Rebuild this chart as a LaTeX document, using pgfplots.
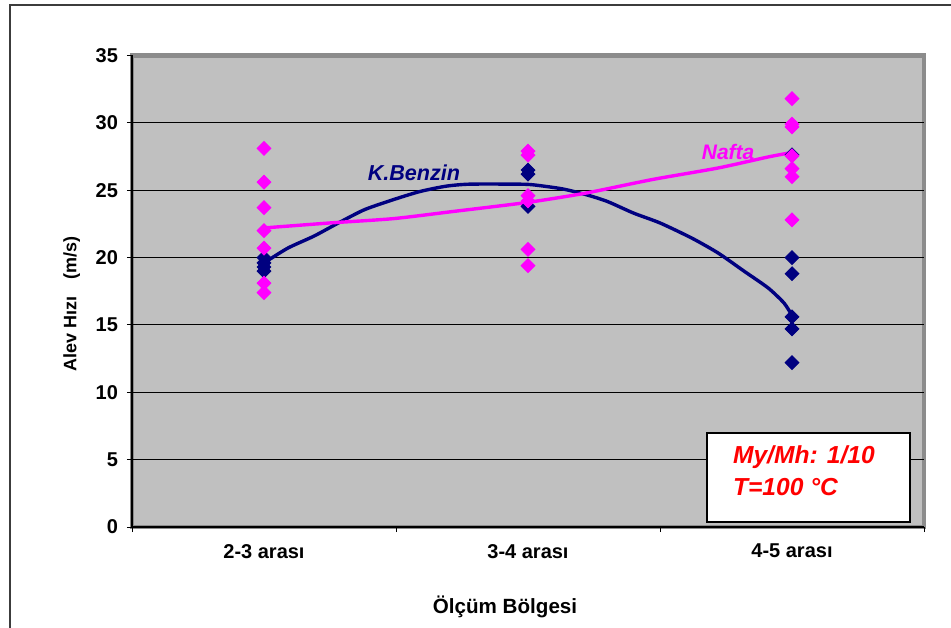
\documentclass[border=0pt]{standalone}
\usepackage{fontspec}
\setmainfont{Liberation Sans}
\usepackage{pgfplots}
\pgfplotsset{compat=1.18}
\definecolor{kb}{HTML}{000080}
\definecolor{nf}{HTML}{FF00FF}
\definecolor{bgc}{HTML}{C0C0C0}
\definecolor{bdc}{HTML}{8C8C8C}
\definecolor{frc}{HTML}{3C3C3C}
\begin{document}
\begin{tikzpicture}
\useasboundingbox (0,0) rectangle (475.5pt,313.5pt);
\draw[frc, line width=1pt] (4.75pt,-5pt) -- (4.75pt,311pt) -- (480pt,311pt);
\begin{axis}[
  at={(66pt,50pt)}, anchor=south west, scale only axis,
  width=396pt, height=235.75pt,
  xmin=0, xmax=3, ymin=0, ymax=35,
  axis x line*=bottom, axis y line*=left,
  axis line style={-, black, line width=0.6pt},
  axis background/.style={fill=bgc, draw=bdc, line width=2.2pt},
  xtick={0,1,2,3}, xticklabels={,,,},
  extra x ticks={0.5,1.5,2.5},
  extra x tick labels={2-3 arası, 3-4 arası, 4-5 arası},
  extra x tick style={major tick length=0pt},
  ytick={5,10,...,30},
  extra y ticks={0,35},
  extra y tick style={grid=none},
  ymajorgrids,
  grid style={black, line width=0.5pt},
  tick align=outside,
  major tick length=2.5pt,
  tick style={black, line width=0.5pt},
  /pgf/number format/assume math mode=true,
  tick label style={font=\fontsize{10}{12}\selectfont\bfseries},
  xticklabel style={yshift=-5pt},
  yticklabel style={xshift=-1pt},
  xlabel={Ölçüm Bölgesi},
  ylabel={Alev Hızı\hspace{0.9em}(m/s)},
  xlabel style={at={(axis description cs:0.471,-0.17)}, anchor=center, font=\fontsize{10.3}{12}\selectfont\bfseries},
  ylabel style={at={(axis description cs:-0.076,0.473)}, anchor=center, rotate=0, font=\fontsize{9}{11}\selectfont\bfseries},
  mark size=2.45pt,
]
% K.Benzin measured points
\addplot[only marks, mark=square*, mark options={rotate=45, fill=kb, draw=kb}] coordinates {
 (0.5,20.0)(0.5,19.6)(0.5,19.3)(0.5,19.0)
 (1.5,26.5)(1.5,26.2)(1.5,23.8)
 (2.5,27.62)(2.5,20.0)(2.5,18.8)(2.5,15.6)(2.5,14.7)(2.5,12.2)
};
% Nafta measured points
\addplot[only marks, mark=square*, mark options={rotate=45, fill=nf, draw=nf}] coordinates {
 (0.5,28.1)(0.5,25.6)(0.5,23.7)(0.5,22.0)(0.5,20.7)(0.5,18.1)(0.5,17.4)
 (1.5,27.9)(1.5,27.6)(1.5,24.6)(1.5,24.2)(1.5,20.6)(1.5,19.4)
 (2.5,31.8)(2.5,29.9)(2.5,29.7)(2.5,27.55)(2.5,26.6)(2.5,26.0)(2.5,22.8)
};
% K.Benzin curve
\addplot[kb, line width=1.7pt, smooth, tension=0.4, no markers] coordinates {
 (0.5,19.6)(0.59,20.7)(0.69,21.6)(0.78,22.55)(0.88,23.55)(0.99,24.3)(1.09,24.9)
 (1.19,25.3)(1.28,25.45)(1.46,25.45)(1.52,25.4)(1.63,25.1)(1.72,24.67)(1.80,24.17)
 (1.90,23.3)(2.0,22.57)(2.12,21.45)(2.22,20.34)(2.32,18.97)(2.41,17.74)(2.47,16.62)(2.5,15.7)
};
% Nafta curve
\addplot[nf, line width=1.7pt, smooth, tension=0.4, no markers] coordinates {
 (0.5,22.2)(0.75,22.57)(0.99,22.89)(1.22,23.43)(1.5,24.1)(1.72,24.79)(1.97,25.79)
 (2.22,26.65)(2.41,27.47)(2.5,27.8)
};
\node[kb, font=\fontsize{10.8}{12}\selectfont\bfseries\itshape] at (axis cs:1.068,26.3) {K.Benzin};
\node[nf, font=\fontsize{10.5}{12}\selectfont\bfseries\itshape] at (axis cs:2.258,27.85) {Nafta};
\draw[black, fill=white, line width=1pt] (axis cs:2.178,0.37) rectangle (axis cs:2.947,6.98);
\node[red, anchor=west, font=\fontsize{12.3}{14}\selectfont\bfseries\itshape] at (axis cs:2.25,5.2) {My/Mh: 1/10};
\node[red, anchor=west, font=\fontsize{12.3}{14}\selectfont\bfseries\itshape] at (axis cs:2.25,2.97) {T=100 °C};
\end{axis}
\end{tikzpicture}
\end{document}
